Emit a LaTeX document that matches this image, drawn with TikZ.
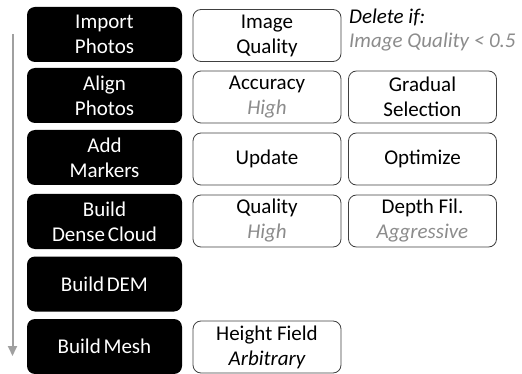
\documentclass[tikz,border=0pt]{standalone}
\usepackage{fontspec}
\setmainfont{Carlito}
\usetikzlibrary{arrows.meta}
\definecolor{txtgray}{HTML}{8C8C8C}
\definecolor{arrgray}{HTML}{A0A0A0}
\definecolor{boxline}{HTML}{404040}
\tikzset{
  stepbox/.style={fill=black, rounded corners=8pt, minimum width=155pt, minimum height=55pt,
    text=white, align=center, inner sep=0pt, font=\fontsize{21}{25}\selectfont},
  optbox/.style={draw=boxline, line width=0.8pt, fill=white, rounded corners=8pt,
    minimum width=148pt, minimum height=52pt, align=center, inner sep=0pt,
    font=\fontsize{21}{25}\selectfont}
}
\begin{document}
\begin{tikzpicture}[x=1pt,y=-1pt]
\useasboundingbox (0,0) rectangle (522,374);
% steps
\node[stepbox] (s1) at (104.5,34.5) {Import\\Photos};
\node[stepbox] (s2) at (104.5,95.5) {Align\\Photos};
\node[stepbox] (s3) at (104.5,157.5) {Add\\Markers};
\node[stepbox] (s4) at (104.5,221.5) {Build\\Dense\hspace{-2pt} Cloud};
\node[stepbox] (s5) at (104.5,284) {Build\hspace{-2pt} DEM};
\node[stepbox] (s6) at (104.5,346.5) {Build\hspace{-2pt} Mesh};
% options column 1
\node[optbox] (o1) at (267,35.5) {Image\\Quality};
\node[optbox] (o2) at (267,97) {Accuracy\\{\color{txtgray}\itshape High}};
\node[optbox] (o3) at (267,159) {Update};
\node[optbox] (o4) at (267,221) {Quality\\{\color{txtgray}\itshape High}};
\node[optbox] (o6) at (267,347) {Height Field\\{\itshape Arbitrary}};
% options column 2
\node[optbox] (p2) at (422.5,97) {Gradual\\Selection};
\node[optbox] (p3) at (422.5,159) {Optimize};
\node[optbox] (p4) at (422.5,221) {Depth Fil.\\{\color{txtgray}\itshape Aggressive}};
% delete note
\node[anchor=north west, inner sep=0pt, align=left, font=\fontsize{21}{24}\selectfont] (del) at (349,9)
  {{\itshape Delete if:}\\{\color{txtgray}\itshape Image Quality < 0.5}};
% timeline arrow
\coordinate (at) at (12.5,34);
\coordinate (ab) at (12.5,356);
\draw[arrgray, line width=2pt, -{Triangle[length=10pt,width=9pt]}] (at) -- (ab);
\end{tikzpicture}
\end{document}
